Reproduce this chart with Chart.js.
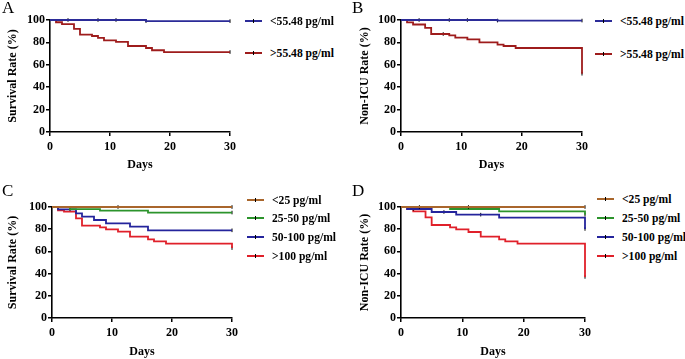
<!DOCTYPE html>
<html>
<head>
<meta charset="utf-8">
<script src="https://cdn.jsdelivr.net/npm/chart.js@4.4.1/dist/chart.umd.min.js"></script>
<style>
  html, body { margin: 0; padding: 0; background: #fff; }
  #wrap { position: relative; width: 685px; height: 359px; overflow: hidden; font-family: 'Liberation Serif', serif; }
  canvas { position: absolute; }
  .letter { position: absolute; font-size: 17px; line-height: 17px; color: #000; }
  .leg { position: absolute; height: 14px; display: flex; align-items: center; font-weight: bold; font-size: 11.6px; color: #000; white-space: nowrap; }
  .leg .ln { position: relative; width: 17px; height: 2px; margin-right: 8px; }
  .leg .ln::after { content: ''; position: absolute; left: 8px; top: -1px; width: 1px; height: 4px; background: #000; }
</style>
</head>
<body>
<div id="wrap">
  <canvas id="cA" width="240" height="180" style="left:0;top:0"></canvas>
  <canvas id="cB" width="240" height="180" style="left:352px;top:0"></canvas>
  <canvas id="cC" width="242" height="172" style="left:0;top:187px"></canvas>
  <canvas id="cD" width="244" height="172" style="left:352px;top:187px"></canvas>
  <div class="letter" style="left:2px;top:-1px">A</div>
  <div class="letter" style="left:352px;top:-1px">B</div>
  <div class="letter" style="left:2px;top:182px">C</div>
  <div class="letter" style="left:352px;top:182px">D</div>
  <div id="legA"></div><div id="legB"></div><div id="legC"></div><div id="legD"></div>
</div>
<script>
// ---- data (days, % still event-free) ----
const lowHighLabels = ['<55.48 pg/ml', '>55.48 pg/ml'];
const groupLabels = ['<25 pg/ml', '25-50 pg/ml', '50-100 pg/ml', '>100 pg/ml'];

// A: survival, cut-off 55.48
const aLowDays = [0, 16, 30];
const aLowRate = [100, 99, 99];
const aLowCens = [3, 8, 11, 16, 30];
const aHighDays = [0, 1, 2, 4, 5, 7, 8, 9, 11, 13, 16, 17, 19, 30];
const aHighRate = [100, 98, 96.4, 92, 87, 85.7, 84, 81.8, 80.4, 76.8, 75, 73, 71.4, 71.4];
const aHighCens = [30];

// B: non-ICU, cut-off 55.48
const bLowDays = [0, 16, 30];
const bLowRate = [100, 99.5, 99.5];
const bLowCens = [3, 8, 11, 16, 30];
const bHighDays = [0, 1, 2, 4, 5, 8, 9, 11, 13, 16, 17, 19, 30];
const bHighRate = [100, 97.9, 96, 92.9, 87.5, 86.3, 84.2, 82.7, 80, 78, 76.8, 75, 52];
const bHighCens = [7, 30];

// C: survival by group
const c25Days = [0, 30];
const c25Rate = [100, 100];
const c25Cens = [11, 30];
const c50Days = [0, 3, 8, 16, 30];
const c50Rate = [100, 98, 96.7, 95, 95];
const c50Cens = [3, 30];
const c100Days = [0, 1, 4, 5, 7, 9, 13, 16, 30];
const c100Rate = [100, 97.9, 94.3, 91.3, 88.3, 85.3, 82.3, 79, 79];
const c100Cens = [30];
const cTopDays = [0, 1, 2, 4, 5, 8, 9, 11, 13, 16, 17, 19, 30];
const cTopRate = [100, 97, 95.8, 89.8, 83.2, 81.7, 79.9, 77.8, 73.3, 70.9, 69, 67, 63];
const cTopCens = [30];

// D: non-ICU by group
const d25Days = [0, 30];
const d25Rate = [100, 100];
const d25Cens = [3, 11, 30];
const d50Days = [0, 8, 16, 30];
const d50Rate = [100, 98.2, 96, 93];
const d50Cens = [30];
const d100Days = [0, 1, 5, 9, 16, 30];
const d100Rate = [100, 98.2, 95.5, 93.1, 90.4, 80.2];
const d100Cens = [2, 7, 13, 30];
const dTopDays = [0, 1, 2, 4, 5, 8, 9, 11, 13, 16, 17, 19, 30];
const dTopRate = [100, 98, 96, 90.7, 83.8, 81.7, 79.9, 77.5, 73.3, 70.9, 69.1, 67, 37];
const dTopCens = [30];

const darkBlue = '#2b2b98';
const darkRed = '#9e1c1c';
const groupColors = ['#a9662c', '#2c942c', '#24249c', '#e0202a'];

Chart.defaults.font.family = "'Liberation Serif', serif";
Chart.defaults.color = '#000';

// value of a step curve at a given day (used to sit censor ticks on the curve)
function rateAt(days, rate, d) {
  let v = rate[0];
  for (let i = 0; i < days.length; i++) if (days[i] <= d) v = rate[i];
  return v;
}

function curveSets(days, rate, cens, color) {
  return [
    {
      data: days.map((d, i) => ({ x: d, y: rate[i] })),
      borderColor: color,
      borderWidth: 1.8,
      stepped: 'before',
      pointRadius: 0,
      fill: false,
      clip: 4
    },
    {
      data: cens.map(d => ({ x: d, y: rateAt(days, rate, d) })),
      showLine: false,
      pointStyle: 'line',
      rotation: 90,
      pointRadius: 1.8,
      pointBorderColor: '#000',
      pointBorderWidth: 1,
      clip: 6
    }
  ];
}

function makePanel(id, datasets, yTitle, pad, yWidth, xHeight, xTitlePad) {
  const axisFont = { size: 12, weight: 'bold' };
  return new Chart(document.getElementById(id), {
    type: 'line',
    data: { datasets },
    options: {
      responsive: false,
      animation: false,
      layout: { padding: pad },
      plugins: { legend: { display: false }, tooltip: { enabled: false } },
      scales: {
        x: {
          type: 'linear', min: 0, max: 30,
          ticks: { stepSize: 10, font: axisFont, padding: 4, maxRotation: 0 },
          grid: { drawOnChartArea: false, drawTicks: true, tickLength: 4, tickColor: '#000', lineWidth: 1.5 },
          border: { color: '#000', width: 1.6 },
          title: { display: true, text: 'Days', font: axisFont, padding: { top: 0, bottom: xTitlePad } },
          afterFit: s => { s.height = xHeight; }
        },
        y: {
          min: 0, max: 100,
          ticks: { stepSize: 20, font: axisFont, padding: 1 },
          grid: { drawOnChartArea: false, drawTicks: true, tickLength: 4, tickColor: '#000', lineWidth: 1.5 },
          border: { color: '#000', width: 1.6 },
          title: { display: true, text: yTitle, font: axisFont, padding: { top: 6, bottom: 0 } },
          afterFit: s => { s.width = yWidth; }
        }
      }
    }
  });
}

function makeLegend(id, labels, colors, left, tops) {
  const host = document.getElementById(id);
  labels.forEach((lab, i) => {
    const row = document.createElement('div');
    row.className = 'leg';
    row.style.left = left + 'px';
    row.style.top = (tops[i] - 7) + 'px';
    row.innerHTML = '<span class="ln" style="background:' + colors[i] + '"></span><span></span>';
    row.lastChild.textContent = lab;
    host.appendChild(row);
  });
}

makePanel('cA', [
  ...curveSets(aLowDays, aLowRate, aLowCens, darkBlue),
  ...curveSets(aHighDays, aHighRate, aHighCens, darkRed)
], 'Survival Rate (%)', { left: 0, top: 20, right: 8, bottom: 0 }, 50, 48, 8);

makePanel('cB', [
  ...curveSets(bLowDays, bLowRate, bLowCens, darkBlue),
  ...curveSets(bHighDays, bHighRate, bHighCens, darkRed)
], 'Non-ICU Rate (%)', { left: 0, top: 20, right: 9, bottom: 0 }, 49, 48, 8);

makePanel('cC', [
  ...curveSets(c25Days, c25Rate, c25Cens, groupColors[0]),
  ...curveSets(c50Days, c50Rate, c50Cens, groupColors[1]),
  ...curveSets(c100Days, c100Rate, c100Cens, groupColors[2]),
  ...curveSets(cTopDays, cTopRate, cTopCens, groupColors[3])
], 'Survival Rate (%)', { left: 0, top: 20, right: 8, bottom: 0 }, 52, 41, 0);

makePanel('cD', [
  ...curveSets(d25Days, d25Rate, d25Cens, groupColors[0]),
  ...curveSets(d50Days, d50Rate, d50Cens, groupColors[1]),
  ...curveSets(d100Days, d100Rate, d100Cens, groupColors[2]),
  ...curveSets(dTopDays, dTopRate, dTopCens, groupColors[3])
], 'Non-ICU Rate (%)', { left: 0, top: 20, right: 11, bottom: 0 }, 49, 41, 0);

makeLegend('legA', lowHighLabels, [darkBlue, darkRed], 245, [21, 53]);
makeLegend('legB', lowHighLabels, [darkBlue, darkRed], 595, [21, 54]);
makeLegend('legC', groupLabels, groupColors, 247, [200, 218, 237, 256]);
makeLegend('legD', groupLabels, groupColors, 597, [199, 218, 237, 256]);
</script>
</body>
</html>
